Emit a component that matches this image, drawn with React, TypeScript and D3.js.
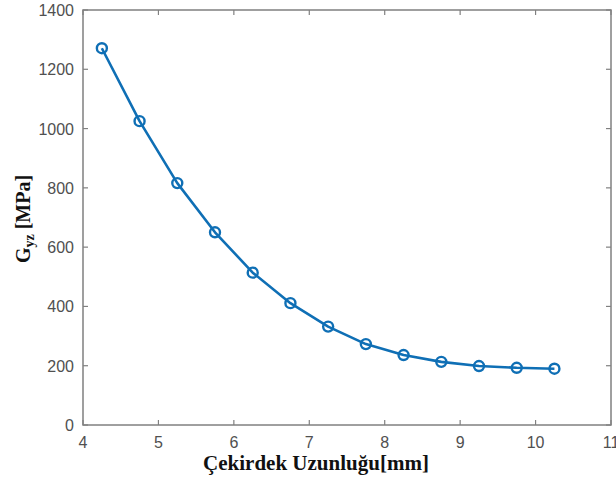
import React from "react";
import * as d3 from "d3";

const lengths = [4.25, 4.75, 5.25, 5.75, 6.25, 6.75, 7.25, 7.75, 8.25, 8.75, 9.25, 9.75, 10.25];
const gyz = [1271, 1025, 816, 650, 514, 411, 332, 273, 236, 213, 199, 193, 190];
const xTicks = [4, 5, 6, 7, 8, 9, 10, 11];
const yTicks = [0, 200, 400, 600, 800, 1000, 1200, 1400];

const W = 616;
const H = 483;
const left = 83;
const right = 611;
const top = 10;
const bottom = 425;

export default function App() {
  const x = d3.scaleLinear().domain([4, 11]).range([left, right]);
  const y = d3.scaleLinear().domain([0, 1400]).range([bottom, top]);
  const line = d3
    .line<number>()
    .x((_, i) => x(lengths[i]))
    .y((d) => y(d));
  const axisColor = "#808080";
  const tickColor = "#505050";
  const blue = "#0f6fb5";
  const tl = 5;
  return (
    <svg
      width={W}
      height={H}
      style={{ position: "absolute", left: 0, top: 0, background: "#fff" }}
    >
      <rect x={0} y={0} width={W} height={H} fill="#fff" />
      <rect
        x={left}
        y={top}
        width={right - left}
        height={bottom - top}
        fill="none"
        stroke={axisColor}
        strokeWidth={1.5}
      />
      {xTicks.map((t) => (
        <g key={"x" + t}>
          <line x1={x(t)} x2={x(t)} y1={bottom} y2={bottom - tl} stroke={axisColor} strokeWidth={1.2} />
          <line x1={x(t)} x2={x(t)} y1={top} y2={top + tl} stroke={axisColor} strokeWidth={1.2} />
          <text
            x={x(t)}
            y={448}
            textAnchor="middle"
            fontFamily="Liberation Sans, Arial, sans-serif"
            fontSize={16}
            fill={tickColor}
          >
            {t}
          </text>
        </g>
      ))}
      {yTicks.map((t) => (
        <g key={"y" + t}>
          <line x1={left} x2={left + tl} y1={y(t)} y2={y(t)} stroke={axisColor} strokeWidth={1.2} />
          <line x1={right} x2={right - tl} y1={y(t)} y2={y(t)} stroke={axisColor} strokeWidth={1.2} />
          <text
            x={74}
            y={y(t) + 6}
            textAnchor="end"
            fontFamily="Liberation Sans, Arial, sans-serif"
            fontSize={16}
            fill={tickColor}
          >
            {t}
          </text>
        </g>
      ))}
      <path d={line(gyz) || ""} fill="none" stroke={blue} strokeWidth={2.6} strokeLinejoin="round" />
      {gyz.map((v, i) => (
        <circle
          key={"p" + i}
          cx={x(lengths[i])}
          cy={y(v)}
          r={5}
          fill="none"
          stroke={blue}
          strokeWidth={2.4}
        />
      ))}
      <text
        x={316}
        y={470}
        textAnchor="middle"
        fontFamily="Liberation Serif, Times New Roman, serif"
        fontWeight="bold"
        fontSize={21}
        fill="#111"
      >
        Çekirdek Uzunluğu[mm]
      </text>
      <text
        transform={`translate(30, 219) rotate(-90)`}
        textAnchor="middle"
        fontFamily="Liberation Serif, Times New Roman, serif"
        fontWeight="bold"
        fontSize={20}
        fill="#111"
      >
        G
        <tspan fontSize={14} dy={4}>yz</tspan>
        <tspan dy={-4}> [MPa]</tspan>
      </text>
    </svg>
  );
}
